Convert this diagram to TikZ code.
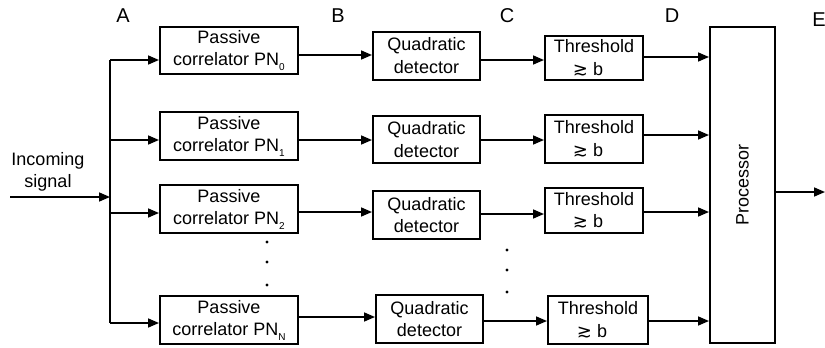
\documentclass[tikz,border=0pt]{standalone}
\usepackage{fontspec}
\setmainfont{Liberation Sans}
\newfontfamily\symfont{DejaVu Sans}
\usetikzlibrary{arrows.meta}
\newcommand{\sbs}[1]{\raisebox{-4.5pt}{\fontsize{10}{10}\selectfont #1}}
\newcommand{\gsim}{{\symfont\fontsize{18}{18}\selectfont ≳}}
\tikzset{
  blk/.style={draw, line width=2pt, fill=white, inner sep=0pt, align=center,
    font=\fontsize{18}{22.5}\selectfont},
  arr/.style={draw, line width=1.6pt, -{Triangle[length=11pt,width=9pt]}},
  wire/.style={draw, line width=1.6pt},
  lab/.style={font=\fontsize{20}{20}\selectfont},
  dot/.style={fill, circle, inner sep=0pt, minimum size=3.2pt}
}
\begin{document}
\begin{tikzpicture}[x=1pt, y=-1pt]
\useasboundingbox (0,0) rectangle (825,348);

% column labels
\node[lab] (lA) at (123,16) {A};
\node[lab] (lB) at (338,16) {B};
\node[lab] (lC) at (507,16) {C};
\node[lab] (lD) at (672,16) {D};
\node[lab] (lE) at (819,20) {E};

% correlators
\node[blk, minimum width=138pt, minimum height=47pt] (p0) at (229,50.5) {Passive\\correlator PN\sbs{0}};
\node[blk, minimum width=138pt, minimum height=48pt] (p1) at (229,136) {Passive\\correlator PN\sbs{1}};
\node[blk, minimum width=138pt, minimum height=48pt] (p2) at (229,209) {Passive\\correlator PN\sbs{2}};
\node[blk, minimum width=138pt, minimum height=48pt] (p3) at (229,320) {Passive\\correlator PN\sbs{N}};

% quadratic detectors
\node[blk, minimum width=107pt, minimum height=48pt] (q0) at (426.5,55.5) {Quadratic\\detector};
\node[blk, minimum width=107pt, minimum height=47pt] (q1) at (426.5,139.5) {Quadratic\\detector};
\node[blk, minimum width=107pt, minimum height=48pt] (q2) at (426.5,215) {Quadratic\\detector};
\node[blk, minimum width=107pt, minimum height=48pt] (q3) at (429.5,319) {Quadratic\\detector};

% thresholds
\node[blk, minimum width=98pt, minimum height=44pt] (t0) at (594,58) {Threshold\\\gsim\ b\hspace*{12pt}};
\node[blk, minimum width=98pt, minimum height=48pt] (t1) at (594,139) {Threshold\\\gsim\ b\hspace*{12pt}};
\node[blk, minimum width=98pt, minimum height=45pt] (t2) at (594,210.5) {Threshold\\\gsim\ b\hspace*{12pt}};
\node[blk, minimum width=100pt, minimum height=48pt] (t3) at (598,320) {Threshold\\\gsim\ b\hspace*{12pt}};

% processor
\node[blk, minimum width=65pt, minimum height=316pt] (proc) at (742.5,185) {};
\node[rotate=90, font=\fontsize{18}{22}\selectfont] (proclab) at (proc.center) {Processor};

% input bus
\coordinate (in) at (10,197);
\coordinate (bt) at (110,60);
\coordinate (bb) at (110,323);
\coordinate (b1) at (110,140);
\coordinate (b2) at (110,213);
\path[wire] (bt) -- (bb);
\path[arr] (in) -- (in -| bt);
\path[arr] (bt) -- (bt -| p0.west);
\path[arr] (b1) -- (b1 -| p1.west);
\path[arr] (b2) -- (b2 -| p2.west);
\path[arr] (bb) -- (bb -| p3.west);

% incoming signal text
\node[font=\fontsize{18}{22}\selectfont, align=center] (inlab) at (48,172) {Incoming\\signal};

% correlator -> detector
\coordinate (c0) at (0,55);
\coordinate (c1) at (0,140);
\coordinate (c2) at (0,212);
\coordinate (c3) at (0,317);
\path[arr] (p0.east |- c0) -- (q0.west |- c0);
\path[arr] (p1.east |- c1) -- (q1.west |- c1);
\path[arr] (p2.east |- c2) -- (q2.west |- c2);
\path[arr] (p3.east |- c3) -- (q3.west |- c3);

% detector -> threshold
\coordinate (d0) at (0,60);
\coordinate (d1) at (0,140);
\coordinate (d2) at (0,214);
\coordinate (d3) at (0,321);
\path[arr] (q0.east |- d0) -- (t0.west |- d0);
\path[arr] (q1.east |- d1) -- (t1.west |- d1);
\path[arr] (q2.east |- d2) -- (t2.west |- d2);
\path[arr] (q3.east |- d3) -- (t3.west |- d3);

% threshold -> processor
\coordinate (e0) at (0,57);
\coordinate (e1) at (0,135);
\coordinate (e2) at (0,212);
\coordinate (e3) at (0,321);
\path[arr] (t0.east |- e0) -- (proc.west |- e0);
\path[arr] (t1.east |- e1) -- (proc.west |- e1);
\path[arr] (t2.east |- e2) -- (proc.west |- e2);
\path[arr] (t3.east |- e3) -- (proc.west |- e3);

% output
\coordinate (out) at (825,192);
\path[arr] (proc.east |- out) -- (out);

% ellipsis dots
\node[dot] (pd1) at (267,242) {};
\node[dot] (pd2) at (267,262) {};
\node[dot] (pd3) at (267,285) {};
\node[dot] (td1) at (507,250) {};
\node[dot] (td2) at (507,270) {};
\node[dot] (td3) at (507,292) {};
\end{tikzpicture}
\end{document}
